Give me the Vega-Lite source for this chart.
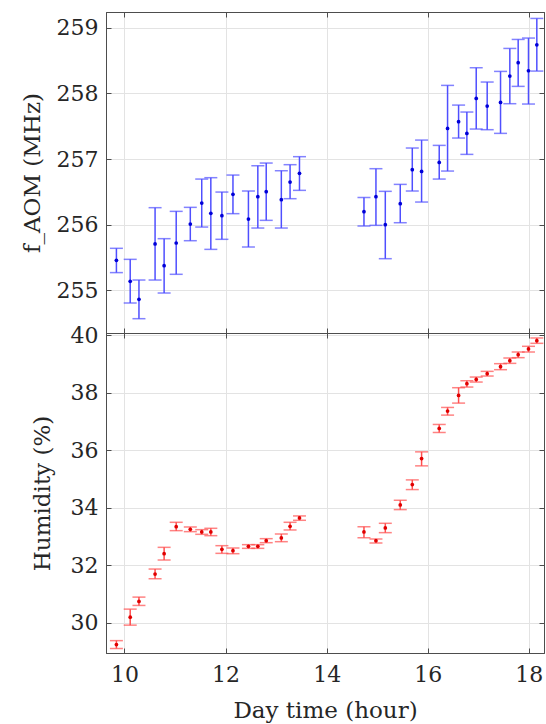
{
  "$schema": "https://vega.github.io/schema/vega-lite/v6.json",
  "background": "white",
  "padding": {"left": 20, "top": 11, "right": 2, "bottom": 2},
  "spacing": 0,
  "bounds": "flush",
  "datasets": {
    "freq": [
      {"t": 9.84, "v": 255.457, "lo": 255.27, "hi": 255.64},
      {"t": 10.113, "v": 255.137, "lo": 254.807, "hi": 255.472},
      {"t": 10.286, "v": 254.863, "lo": 254.568, "hi": 255.157},
      {"t": 10.605, "v": 255.706, "lo": 255.157, "hi": 256.259},
      {"t": 10.784, "v": 255.376, "lo": 254.959, "hi": 255.787},
      {"t": 11.023, "v": 255.721, "lo": 255.244, "hi": 256.203},
      {"t": 11.302, "v": 256.01, "lo": 255.756, "hi": 256.264},
      {"t": 11.528, "v": 256.33, "lo": 255.964, "hi": 256.695},
      {"t": 11.708, "v": 256.173, "lo": 255.624, "hi": 256.716},
      {"t": 11.927, "v": 256.137, "lo": 255.777, "hi": 256.497},
      {"t": 12.146, "v": 256.462, "lo": 256.168, "hi": 256.756},
      {"t": 12.452, "v": 256.086, "lo": 255.66, "hi": 256.513},
      {"t": 12.638, "v": 256.426, "lo": 255.949, "hi": 256.898},
      {"t": 12.804, "v": 256.503, "lo": 256.066, "hi": 256.939},
      {"t": 13.103, "v": 256.381, "lo": 255.949, "hi": 256.822},
      {"t": 13.276, "v": 256.65, "lo": 256.396, "hi": 256.914},
      {"t": 13.462, "v": 256.782, "lo": 256.523, "hi": 257.036},
      {"t": 14.738, "v": 256.198, "lo": 255.98, "hi": 256.416},
      {"t": 14.975, "v": 256.426, "lo": 255.99, "hi": 256.853},
      {"t": 15.16, "v": 256.0, "lo": 255.482, "hi": 256.508},
      {"t": 15.456, "v": 256.32, "lo": 256.03, "hi": 256.614},
      {"t": 15.694, "v": 256.838, "lo": 256.513, "hi": 257.168},
      {"t": 15.878, "v": 256.812, "lo": 256.345, "hi": 257.289},
      {"t": 16.227, "v": 256.949, "lo": 256.695, "hi": 257.208},
      {"t": 16.392, "v": 257.467, "lo": 256.817, "hi": 258.122},
      {"t": 16.61, "v": 257.569, "lo": 257.32, "hi": 257.822},
      {"t": 16.774, "v": 257.391, "lo": 257.071, "hi": 257.716},
      {"t": 16.959, "v": 257.924, "lo": 257.457, "hi": 258.391},
      {"t": 17.176, "v": 257.807, "lo": 257.447, "hi": 258.173},
      {"t": 17.44, "v": 257.863, "lo": 257.391, "hi": 258.335},
      {"t": 17.624, "v": 258.264, "lo": 257.843, "hi": 258.685},
      {"t": 17.789, "v": 258.467, "lo": 258.107, "hi": 258.822},
      {"t": 17.993, "v": 258.345, "lo": 257.838, "hi": 258.843},
      {"t": 18.158, "v": 258.741, "lo": 258.34, "hi": 259.142}
    ],
    "hum": [
      {"t": 9.84, "v": 29.245, "lo": 29.106, "hi": 29.38},
      {"t": 10.113, "v": 30.197, "lo": 29.919, "hi": 30.476},
      {"t": 10.286, "v": 30.743, "lo": 30.604, "hi": 30.894},
      {"t": 10.605, "v": 31.696, "lo": 31.533, "hi": 31.87},
      {"t": 10.784, "v": 32.404, "lo": 32.184, "hi": 32.625},
      {"t": 11.023, "v": 33.345, "lo": 33.206, "hi": 33.496},
      {"t": 11.302, "v": 33.252, "lo": 33.171, "hi": 33.333},
      {"t": 11.528, "v": 33.159, "lo": 33.078, "hi": 33.24},
      {"t": 11.708, "v": 33.159, "lo": 33.031, "hi": 33.287},
      {"t": 11.927, "v": 32.555, "lo": 32.416, "hi": 32.683},
      {"t": 12.146, "v": 32.509, "lo": 32.404, "hi": 32.602},
      {"t": 12.452, "v": 32.66, "lo": 32.59, "hi": 32.718},
      {"t": 12.638, "v": 32.66, "lo": 32.59, "hi": 32.718},
      {"t": 12.804, "v": 32.857, "lo": 32.787, "hi": 32.927},
      {"t": 13.103, "v": 32.95, "lo": 32.822, "hi": 33.089},
      {"t": 13.276, "v": 33.357, "lo": 33.229, "hi": 33.496},
      {"t": 13.462, "v": 33.647, "lo": 33.566, "hi": 33.717},
      {"t": 14.738, "v": 33.159, "lo": 32.962, "hi": 33.345},
      {"t": 14.975, "v": 32.857, "lo": 32.776, "hi": 32.915},
      {"t": 15.16, "v": 33.298, "lo": 33.136, "hi": 33.461},
      {"t": 15.456, "v": 34.1, "lo": 33.937, "hi": 34.262},
      {"t": 15.694, "v": 34.808, "lo": 34.634, "hi": 34.971},
      {"t": 15.878, "v": 35.714, "lo": 35.459, "hi": 35.946},
      {"t": 16.227, "v": 36.76, "lo": 36.62, "hi": 36.899},
      {"t": 16.392, "v": 37.363, "lo": 37.224, "hi": 37.491},
      {"t": 16.61, "v": 37.909, "lo": 37.642, "hi": 38.177},
      {"t": 16.774, "v": 38.316, "lo": 38.2, "hi": 38.42},
      {"t": 16.959, "v": 38.467, "lo": 38.374, "hi": 38.548},
      {"t": 17.176, "v": 38.664, "lo": 38.583, "hi": 38.746},
      {"t": 17.44, "v": 38.908, "lo": 38.804, "hi": 39.013},
      {"t": 17.624, "v": 39.117, "lo": 39.024, "hi": 39.21},
      {"t": 17.789, "v": 39.326, "lo": 39.222, "hi": 39.419},
      {"t": 17.993, "v": 39.524, "lo": 39.419, "hi": 39.617},
      {"t": 18.158, "v": 39.814, "lo": 39.721, "hi": 39.907}
    ]
  },
  "config": {
    "font": "DejaVu Serif",
    "view": {"stroke": "#4d4d4d", "strokeWidth": 1},
    "axis": {
      "labelFont": "DejaVu Serif",
      "labelFontSize": 22,
      "labelColor": "#262626",
      "titleFont": "DejaVu Serif",
      "titleFontSize": 23,
      "titleFontWeight": "normal",
      "titleColor": "#262626",
      "domainColor": "#4d4d4d",
      "tickColor": "#4d4d4d",
      "gridColor": "#e3e3e3",
      "gridWidth": 1,
      "tickSize": -5,
      "labelPadding": 13,
      "minExtent": 0
    }
  },
  "vconcat": [
    {
      "width": 438,
      "height": 321,
      "data": {"name": "freq"},
      "layer": [
        {
          "mark": {"type": "errorbar", "ticks": {"size": 13, "thickness": 1.5, "color": "#4f4fff"}, "rule": {"strokeWidth": 1.5, "color": "#4f4fff"}, "color": "#4f4fff"},
          "encoding": {
            "x": {"field": "t", "type": "quantitative", "scale": {"domain": [9.634, 18.3], "nice": false, "zero": false},
                  "axis": {"orient": "bottom", "values": [10, 12, 14, 16, 18], "labels": false, "title": null, "grid": true, "labelPadding": 0}},
            "y": {"field": "lo", "type": "quantitative", "scale": {"domain": [254.35, 259.24], "nice": false, "zero": false},
                  "axis": {"orient": "left", "values": [255, 256, 257, 258, 259], "title": "f_AOM (MHz)", "titlePadding": 12, "grid": true}},
            "y2": {"field": "hi"}
          }
        },
        {
          "mark": {"type": "point", "filled": true, "size": 14, "color": "#0000d8", "opacity": 1},
          "encoding": {
            "x": {"field": "t", "type": "quantitative", "axis": {"orient": "top", "values": [10, 12, 14, 16, 18], "labels": false, "title": null, "grid": false, "labelPadding": 0}},
            "y": {"field": "v", "type": "quantitative", "axis": {"orient": "right", "values": [255, 256, 257, 258, 259], "labels": false, "title": null, "grid": false, "labelPadding": 0}}
          }
        }
      ],
      "resolve": {"axis": {"x": "independent", "y": "independent"}}
    },
    {
      "width": 438,
      "height": 320,
      "data": {"name": "hum"},
      "layer": [
        {
          "mark": {"type": "errorbar", "ticks": {"size": 13, "thickness": 1.5, "color": "#ff4f4f"}, "rule": {"strokeWidth": 1.5, "color": "#ff4f4f"}, "color": "#ff4f4f"},
          "encoding": {
            "x": {"field": "t", "type": "quantitative", "scale": {"domain": [9.634, 18.3], "nice": false, "zero": false},
                  "axis": {"orient": "bottom", "values": [10, 12, 14, 16, 18], "title": "Day time (hour)", "titlePadding": 14, "labelPadding": 16, "grid": true}},
            "y": {"field": "lo", "type": "quantitative", "scale": {"domain": [28.95, 40.08], "nice": false, "zero": false},
                  "axis": {"orient": "left", "values": [30, 32, 34, 36, 38, 40], "title": "Humidity (%)", "titlePadding": 16, "grid": true}},
            "y2": {"field": "hi"}
          }
        },
        {
          "mark": {"type": "point", "filled": true, "size": 14, "color": "#e00000", "opacity": 1},
          "encoding": {
            "x": {"field": "t", "type": "quantitative", "axis": {"orient": "top", "values": [10, 12, 14, 16, 18], "labels": false, "title": null, "grid": false, "labelPadding": 0}},
            "y": {"field": "v", "type": "quantitative", "axis": {"orient": "right", "values": [30, 32, 34, 36, 38, 40], "labels": false, "title": null, "grid": false, "labelPadding": 0}}
          }
        }
      ],
      "resolve": {"axis": {"x": "independent", "y": "independent"}}
    }
  ]
}
